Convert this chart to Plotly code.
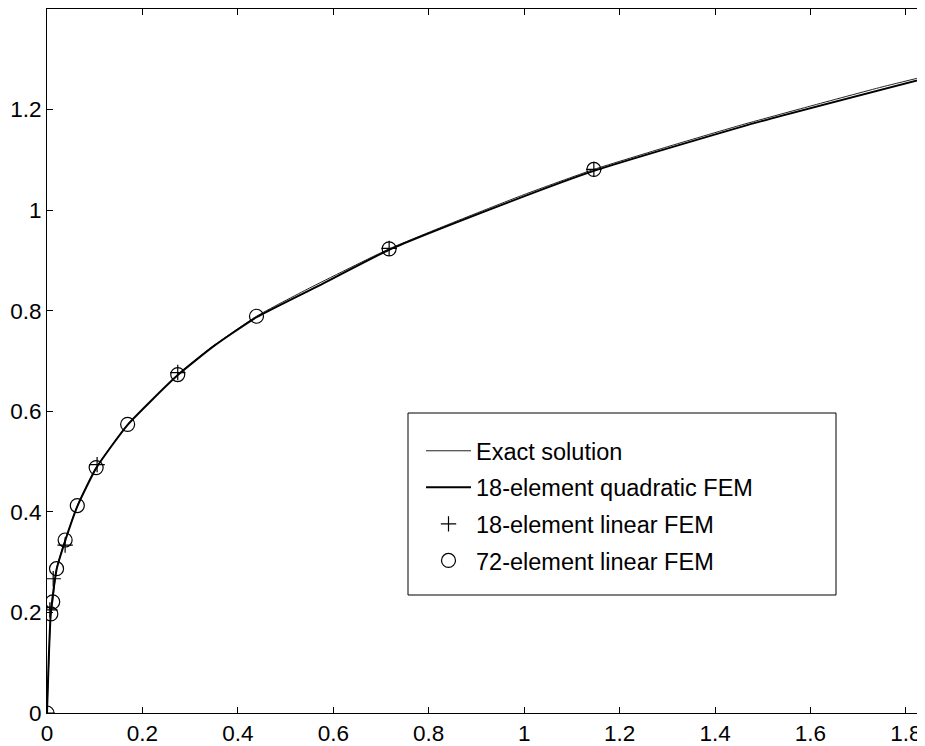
import plotly.graph_objects as go

# ---- data ----
exact_x = [0, 0.008, 0.012, 0.02, 0.038, 0.064, 0.103, 0.169, 0.2, 0.274, 0.35, 0.439,
           0.55, 0.717, 0.85, 1.0, 1.146, 1.3, 1.45, 1.6, 1.75, 1.84]
exact_y = [0, 0.197, 0.221, 0.287, 0.344, 0.413, 0.488, 0.574, 0.603, 0.673, 0.731, 0.789,
           0.845, 0.923, 0.975, 1.031, 1.081, 1.126, 1.168, 1.207, 1.245, 1.266]

quad_x = [0, 0.008, 0.02, 0.038, 0.064, 0.103, 0.169, 0.274, 0.35, 0.439, 0.57, 0.717,
          0.93, 1.146, 1.49, 1.84]
quad_y = [0, 0.199, 0.285, 0.342, 0.412, 0.487, 0.573, 0.672, 0.730, 0.787, 0.850, 0.921,
          1.002, 1.078, 1.175, 1.262]

lin18_x = [0, 0.006, 0.013, 0.038, 0.105, 0.274, 0.717, 1.146, 1.84]
lin18_y = [0, 0.205, 0.267, 0.334, 0.494, 0.677, 0.924, 1.081, 1.264]

lin72_x = [0, 0.008, 0.012, 0.02, 0.038, 0.0635, 0.103, 0.169, 0.274, 0.439, 0.717, 1.146, 1.84]
lin72_y = [0, 0.197, 0.221, 0.287, 0.344, 0.4125, 0.488, 0.574, 0.673, 0.789, 0.923, 1.081, 1.264]

x_ticks = [0, 0.2, 0.4, 0.6, 0.8, 1.0, 1.2, 1.4, 1.6, 1.8]
x_labels = ["0", "0.2", "0.4", "0.6", "0.8", "1", "1.2", "1.4", "1.6", "1.8"]
y_ticks = [0, 0.2, 0.4, 0.6, 0.8, 1.0, 1.2]
y_labels = ["0", "0.2", "0.4", "0.6", "0.8", "1", "1.2"]

names = ["Exact solution", "18-element quadratic FEM", "18-element linear FEM", "72-element linear FEM"]

FONT = "Liberation Sans, Arial, Helvetica, sans-serif"
FS = 22.5
LFS = 23.5

# page body has an 8px margin; plot area wanted at page px x 47..925, y 9..713
OFF = 8
W, H = 925 - OFF, 746 - OFF
L, T = 47 - OFF, 9 - OFF
PW, PH = 878, 704
B = H - T - PH
R = W - L - PW

fig = go.Figure()
fig.add_trace(go.Scatter(x=exact_x, y=exact_y, mode="lines", name=names[0],
                         line=dict(color="#222222", width=1, shape="spline", smoothing=0.5),
                         legendgroup="a"))
fig.add_trace(go.Scatter(x=quad_x, y=quad_y, mode="lines", name=names[1],
                         line=dict(color="black", width=2, shape="spline", smoothing=0.5),
                         legendgroup="b"))
fig.add_trace(go.Scatter(x=lin18_x, y=lin18_y, mode="markers", name=names[2],
                         marker=dict(symbol="cross-thin-open", size=11, color="black",
                                     line=dict(color="black", width=1.2)), legendgroup="c"))
fig.add_trace(go.Scatter(x=lin72_x, y=lin72_y, mode="markers", name=names[3],
                         marker=dict(symbol="circle-open", size=14, color="black",
                                     line=dict(color="black", width=1.2)), legendgroup="d"))

axis_common = dict(showline=True, linecolor="black", linewidth=1, mirror="ticks",
                   ticks="inside", ticklen=6, tickcolor="black", showgrid=False,
                   zeroline=False, tickfont=dict(family=FONT, size=FS, color="black"))

fig.update_xaxes(range=[0, 1.84], tickmode="array", tickvals=x_ticks, ticktext=x_labels,
                 **axis_common)
fig.update_yaxes(range=[0, 1.4], tickmode="array", tickvals=y_ticks, ticktext=y_labels,
                 **axis_common)

# legend box frame (page px 408..836 x 413..595)
fig.add_shape(type="rect", xref="paper", yref="paper",
              x0=(408 - 47) / PW, x1=(836 - 47) / PW,
              y0=(713 - 595) / PH, y1=(713 - 413) / PH,
              line=dict(color="black", width=1), fillcolor="white", layer="below")

fig.update_layout(
    width=W, height=H,
    margin=dict(l=L, r=R, t=T, b=B, autoexpand=False),
    paper_bgcolor="white", plot_bgcolor="white",
    font=dict(family=FONT, size=FS, color="black"),
    legend=dict(x=(421 - 47) / PW, y=(713 - 429) / PH, xanchor="left", yanchor="top",
                bgcolor="rgba(0,0,0,0)", borderwidth=0, traceorder="grouped",
                tracegroupgap=3, itemwidth=45,
                font=dict(family=FONT, size=LFS, color="black")),
    showlegend=True,
)

fig.write_html("out.html")
